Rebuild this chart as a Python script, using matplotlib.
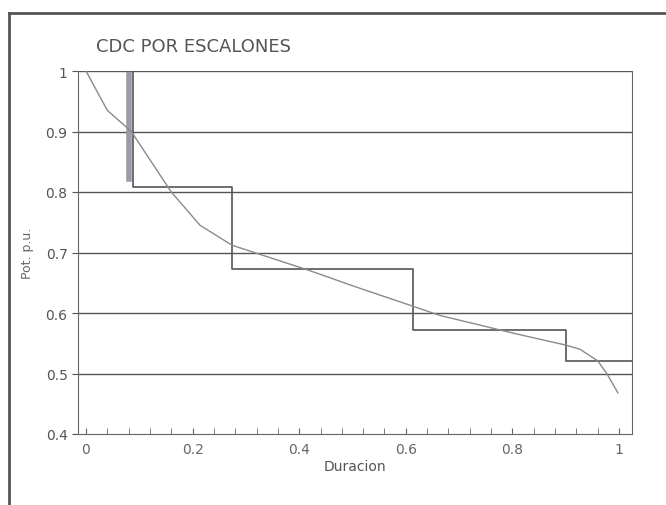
import numpy as np
import matplotlib.pyplot as plt
from matplotlib.lines import Line2D
from matplotlib.ticker import MultipleLocator

# curva de duracion
duracion = [0, 0.04, 0.085, 0.16, 0.214, 0.274, 0.42, 0.5, 0.614, 0.664,
            0.739, 0.8, 0.9, 0.927, 0.96, 0.977, 0.998]
potencia = [1.0, 0.935, 0.9, 0.8, 0.745, 0.712, 0.67, 0.645, 0.611, 0.596,
            0.58, 0.567, 0.547, 0.540, 0.521, 0.50, 0.468]

# escalones
bordes = [0, 0.088, 0.274, 0.614, 0.90, 1.024]
niveles = [1.0, 0.809, 0.672, 0.572, 0.521]

# trazo vertical grueso cerca de x=0.08
barra_x = 0.081
barra_y = [1.0, 0.822]

yticks = [0.4, 0.5, 0.6, 0.7, 0.8, 0.9, 1.0]
ytick_labels = ['0.4', '0.5', '0.6', '0.7', '0.8', '0.9', '1']
xticks = [0, 0.2, 0.4, 0.6, 0.8, 1.0]
xtick_labels = ['0', '0.2', '0.4', '0.6', '0.8', '1']

fig = plt.figure(figsize=(6.66, 5.06), dpi=100)
ax = fig.add_axes([78/666, 1 - 435/506, (632-78)/666, (435-72)/506])

# lineas horizontales de la grilla
for y in yticks[1:]:
    ax.axhline(y, color='#555555', linewidth=1.0, zorder=1)

ax.plot([barra_x, barra_x], barra_y, color='#9a9aa8', linewidth=4, zorder=2)

# funcion escalonada
xs = []
ys = []
for i, n in enumerate(niveles):
    xs += [bordes[i], bordes[i+1]]
    ys += [n, n]
ax.plot(xs, ys, color='#555555', linewidth=1.2, zorder=3)

ax.plot(duracion, potencia, color='#8a8a8a', linewidth=1.0, zorder=4)

ax.set_xlim(-0.015, 1.0244)
ax.set_ylim(0.4, 1.0)

ax.set_xticks(xticks)
ax.set_xticklabels(xtick_labels)
ax.xaxis.set_minor_locator(MultipleLocator(0.04))
ax.tick_params(axis='x', which='both', direction='in', length=4, colors='#666666',
               labelsize=10, pad=6)
ax.set_yticks(yticks)
ax.set_yticklabels(ytick_labels)
ax.tick_params(axis='y', direction='out', length=4, colors='#555555', labelsize=10)

for s in ['left', 'bottom', 'right']:
    ax.spines[s].set_color('#666666')
ax.spines['top'].set_visible(False)

ax.set_xlabel('Duracion', fontsize=10, color='#555555', labelpad=2)
ax.set_ylabel('Pot. p.u.', fontsize=9, color='#666666', labelpad=8)

fig.text(96/666, 1 - 47/506, 'CDC POR ESCALONES', fontsize=13, color='#555555',
         va='center', ha='left')

# marco de la hoja
fig.add_artist(Line2D([9/666, 1], [1 - 14/506, 1 - 14/506], color='#555555', linewidth=2))
fig.add_artist(Line2D([9/666, 9/666], [0, 1 - 14/506], color='#555555', linewidth=2))

fig.savefig('out.png', dpi=100)
